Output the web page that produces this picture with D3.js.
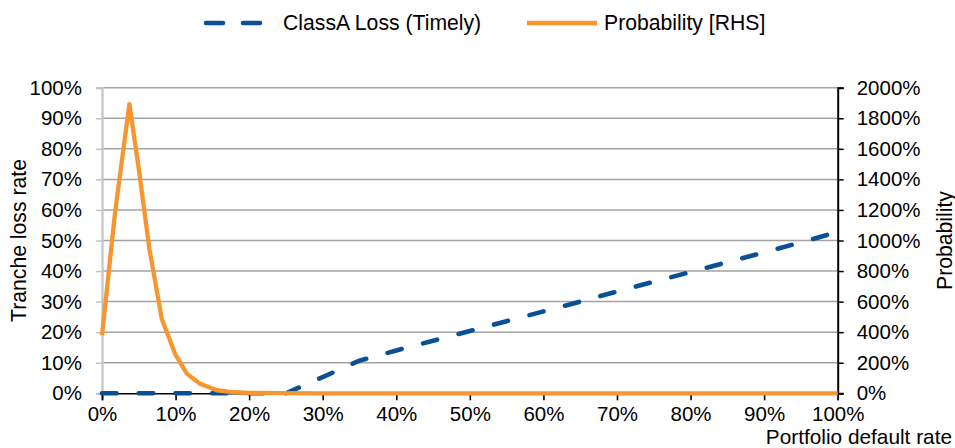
<!DOCTYPE html>
<html><head><meta charset="utf-8">
<script src="https://cdn.jsdelivr.net/npm/d3@7"></script>
<style>
html,body{margin:0;padding:0;background:#fff;}
text{font-family:"Liberation Sans",Arial,sans-serif;fill:#000;}
</style></head>
<body><svg id="chart" width="955" height="448"></svg>
<script>
// Portfolio default rate (%) for the tranche loss series
const lossX = [0,5,10,15,20,25,30,35,40,45,50,55,60,65,70,75,80,85,90,95,100];
// ClassA Loss (Timely), tranche loss rate (%)
const lossY = [0,0,0,0,0,0,5.3,10.7,14.0,17.2,20.4,23.6,26.8,30.0,33.3,36.5,39.7,42.9,46.1,49.4,52.8];
// Portfolio default rate (%) for the probability series
const probX = [0,1.77,3.72,4.94,6.44,8.12,9.93,11.52,13.33,15.6,17.4,20,24,30,40,50,60,70,80,90,100];
// Probability [RHS] (%)
const probY = [380,1180,1893,1490,946,488,259,129,63,20,10,3,0.5,0,0,0,0,0,0,0,0];
const xTicks = [0,10,20,30,40,50,60,70,80,90,100];
const yLeftTicks = [0,10,20,30,40,50,60,70,80,90,100];
const yRightTicks = [0,200,400,600,800,1000,1200,1400,1600,1800,2000];
const seriesNames = ["ClassA Loss (Timely)","Probability [RHS]"];
const axisTitles = {x:"Portfolio default rate", yl:"Tranche loss rate", yr:"Probability"};

const svg = d3.select("#chart");
const L = 102, R = 837.7, T = 87.7, B = 393.3;
const FS = 20.5, FT = 21.2;
const blue = "#0b4f96", orange = "#f7962e";

const x = d3.scaleLinear().domain([0,100]).range([L,R]);
const yl = d3.scaleLinear().domain([0,100]).range([B,T]);
const yr = d3.scaleLinear().domain([0,2000]).range([B,T]);

// gridlines
svg.append("g").selectAll("line").data(yLeftTicks.filter(d=>d>0)).join("line")
  .attr("x1",L).attr("x2",R).attr("y1",d=>yl(d)).attr("y2",d=>yl(d))
  .attr("stroke","#a3a3a3").attr("stroke-width",1.5);

// left axis
const gl = svg.append("g").attr("transform",`translate(${L},0)`)
  .call(d3.axisLeft(yl).tickValues(yLeftTicks).tickFormat(d=>d+"%").tickSize(6).tickPadding(14));
gl.select(".domain").attr("stroke","#c4c4c4").attr("stroke-width",2.2);
gl.selectAll(".tick line").attr("stroke","#c4c4c4").attr("stroke-width",1.5);
gl.selectAll("text").attr("font-size",FS).style("font-family","Liberation Sans, Arial, sans-serif").attr("fill","#000");

// right axis
const gr = svg.append("g").attr("transform",`translate(${R},0)`)
  .call(d3.axisRight(yr).tickValues(yRightTicks).tickFormat(d=>d+"%").tickSize(6).tickPadding(13));
gr.select(".domain").attr("stroke","#000").attr("stroke-width",2);
gr.selectAll(".tick line").attr("stroke","#000").attr("stroke-width",1.5);
gr.selectAll("text").attr("font-size",FS).style("font-family","Liberation Sans, Arial, sans-serif").attr("fill","#000");

// bottom axis
const gb = svg.append("g").attr("transform",`translate(0,${B})`)
  .call(d3.axisBottom(x).tickValues(xTicks).tickFormat(d=>d+"%").tickSize(7).tickPadding(6.5));
gb.select(".domain").attr("stroke","#000").attr("stroke-width",1.6);
gb.selectAll(".tick line").attr("stroke","#000").attr("stroke-width",1.6);
gb.selectAll("text").attr("font-size",FS).style("font-family","Liberation Sans, Arial, sans-serif").attr("fill","#000");

// lines
const lossLine = d3.line().x((d,i)=>x(lossX[i])).y(d=>yl(d));
svg.append("path").datum(lossY).attr("d",lossLine)
  .attr("fill","none").attr("stroke",blue).attr("stroke-width",4.6)
  .attr("stroke-dasharray","14.5 22.2").attr("stroke-linecap","round");
const probLine = d3.line().x((d,i)=>x(probX[i])).y(d=>yr(d));
svg.append("path").datum(probY).attr("d",probLine)
  .attr("fill","none").attr("stroke",orange).attr("stroke-width",4.3)
  .attr("stroke-linejoin","round");

// axis titles
svg.append("text").attr("x",952).attr("y",443.5).attr("text-anchor","end").attr("font-size",20.8).text(axisTitles.x);
svg.append("text").attr("transform",`translate(26,${(T+B)/2}) rotate(-90)`).attr("text-anchor","middle").attr("font-size",FT).text(axisTitles.yl);
svg.append("text").attr("transform",`translate(952,${(T+B)/2}) rotate(-90)`).attr("text-anchor","middle").attr("font-size",FT).text(axisTitles.yr);

// legend
const ly = 23;
const lg = svg.append("g");
lg.append("line").attr("x1",206).attr("x2",262).attr("y1",ly).attr("y2",ly)
  .attr("stroke",blue).attr("stroke-width",4.6).attr("stroke-dasharray","17 20").attr("stroke-linecap","round");
lg.append("text").attr("x",283).attr("y",ly).attr("dy","0.35em").attr("font-size",FT).text(seriesNames[0]);
lg.append("line").attr("x1",527).attr("x2",597).attr("y1",ly).attr("y2",ly)
  .attr("stroke",orange).attr("stroke-width",4.3);
lg.append("text").attr("x",604).attr("y",ly).attr("dy","0.35em").attr("font-size",FT).text(seriesNames[1]);
</script></body></html>
